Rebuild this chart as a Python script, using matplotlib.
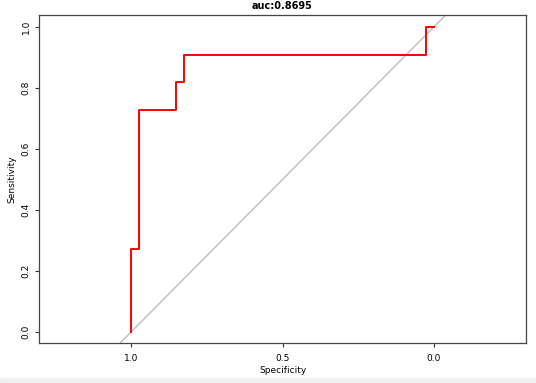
import matplotlib
matplotlib.use("Agg")
import matplotlib.pyplot as plt
from matplotlib.patches import Rectangle

# ROC steps (specificity, sensitivity)
specificity = [1.0, 1.0, 0.975, 0.975, 0.85, 0.85, 0.825, 0.825, 0.025, 0.025, 0.0]
sensitivity = [0.0, 0.273, 0.273, 0.727, 0.727, 0.818, 0.818, 0.909, 0.909, 1.0, 1.0]
auc_text = "auc:0.8695"
xticks = [1.0, 0.5, 0.0]
yticks = [0.0, 0.2, 0.4, 0.6, 0.8, 1.0]

fig = plt.figure(figsize=(5.36, 3.83), dpi=100)
ax = fig.add_axes([39/536, 40/383, 487/536, 328/383])

ax.axline((1.0, 0.0), (0.0, 1.0), color="#bdbdbd", lw=1.0, zorder=1)
ax.plot(specificity, sensitivity, color="#ff0000", lw=1.4, zorder=2)

ax.set_xlim(1.304, -0.304)
ax.set_ylim(-0.036, 1.039)
ax.set_xticks(xticks)
ax.set_xticklabels([f"{t:.1f}" for t in xticks], fontsize=6.5)
ax.set_yticks(yticks)
ax.set_yticklabels([f"{t:.1f}" for t in yticks], fontsize=6.5, rotation=90, va="center")
ax.tick_params(length=3, width=0.8, color="#333333", pad=3)
ax.tick_params(axis="x", pad=5)
for s in ax.spines.values():
    s.set_color("#444444"); s.set_linewidth(0.9)

ax.set_xlabel("Specificity", fontsize=6.5, labelpad=2)
ax.set_ylabel("Sensitivity", fontsize=6.5, labelpad=4)
ax.set_title(auc_text, fontsize=7, fontweight="bold", pad=4)

# light strip at the bottom edge of the screenshot
fig.patches.append(Rectangle((0, 0), 1, 5/383, transform=fig.transFigure,
                             color="#f0f0f0", zorder=0))

fig.savefig("out.png", dpi=100)
